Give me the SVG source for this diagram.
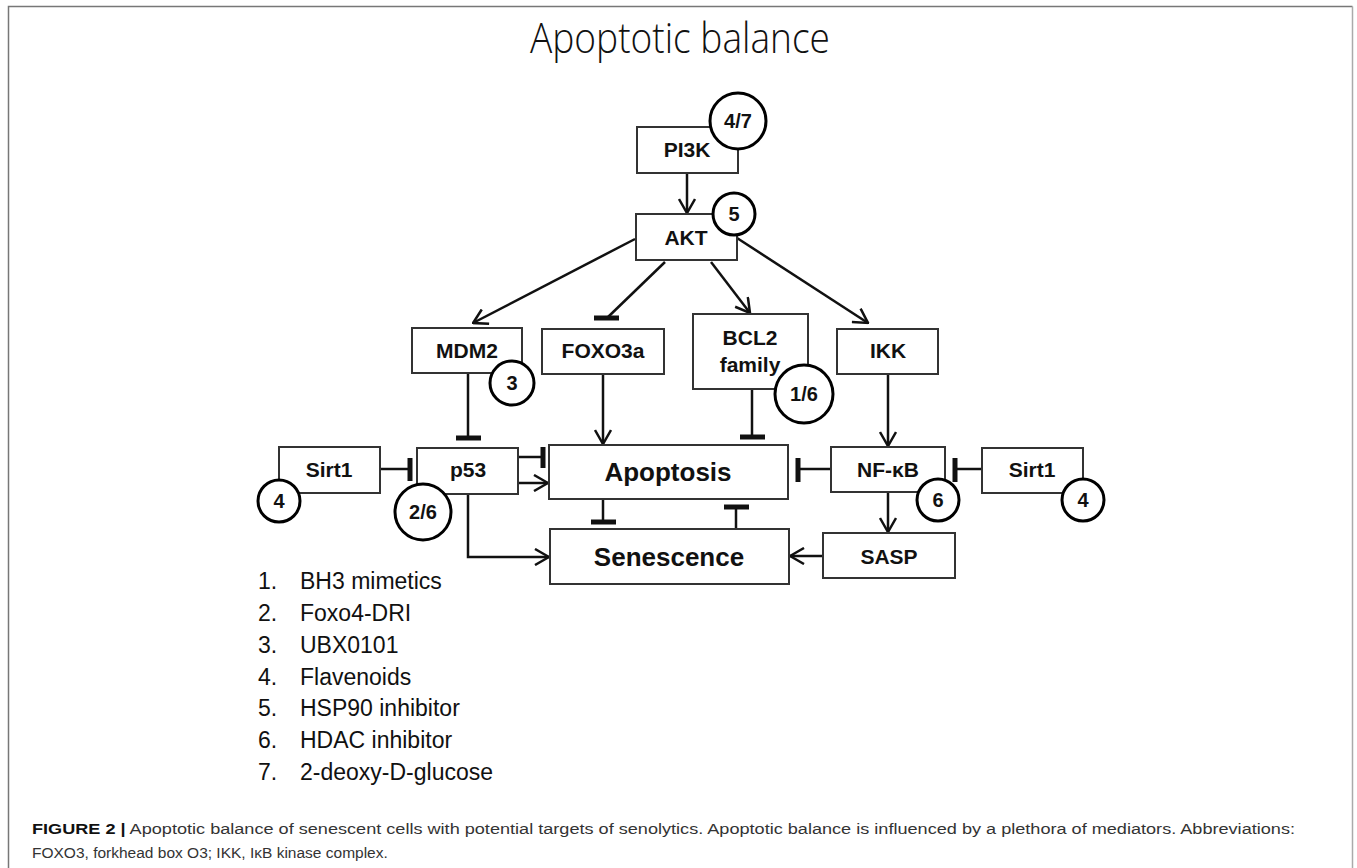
<svg xmlns="http://www.w3.org/2000/svg" width="1357" height="868" viewBox="0 0 1357 868">
<style>
.box{fill:#fff;stroke:#333;stroke-width:2}
.circ{fill:#fff;stroke:#000;stroke-width:3}
.lbl{font-family:"Liberation Sans",Arial,sans-serif;font-weight:bold;font-size:21px;fill:#111;text-anchor:middle}
.big{font-size:26px}
.num{font-family:"Liberation Sans",Arial,sans-serif;font-weight:bold;font-size:20px;fill:#111;text-anchor:middle}
.edge{fill:none;stroke:#111;stroke-width:2.5}
.bar{fill:none;stroke:#111;stroke-width:5}
.leg{font-family:"Liberation Sans",Arial,sans-serif;font-size:23px;fill:#111}
.cap{font-family:"Liberation Sans",Arial,sans-serif;font-size:15.5px;fill:#333}
</style>
<defs>
<marker id="arr" viewBox="0 0 16 18" refX="15" refY="9" markerWidth="16" markerHeight="18" markerUnits="userSpaceOnUse" orient="auto">
<path d="M1,1 L15,9 L1,17" fill="none" stroke="#111" stroke-width="2.5"/>
</marker>
</defs>
<rect width="1357" height="868" fill="#fff"/>
<path d="M8.5,870 L8.5,6.5 L1352.5,6.5" fill="none" stroke="#777" stroke-width="1.5"/>
<path d="M1352.5,6.5 L1352.5,870" fill="none" stroke="#aaa" stroke-width="1.5"/>
<text x="680" y="53" font-family="'Open Sans',sans-serif" font-weight="300" font-size="42" fill="#111" text-anchor="middle" textLength="300" lengthAdjust="spacingAndGlyphs">Apoptotic balance</text>

<g id="connectors">
<path class="edge" d="M687,173 L687,213" marker-end="url(#arr)"/>
<path class="edge" d="M635,239 L473,323" marker-end="url(#arr)"/>
<path class="edge" d="M665,262 L607,318"/>
<path class="bar" d="M594,318 L619,318"/>
<path class="edge" d="M711,262 L750,313" marker-end="url(#arr)"/>
<path class="edge" d="M737,238 L868,323" marker-end="url(#arr)"/>
<path class="edge" d="M468,373 L468,438"/>
<path class="bar" d="M456,438 L481,438"/>
<path class="edge" d="M603,374 L603,444" marker-end="url(#arr)"/>
<path class="edge" d="M752,389 L752,437"/>
<path class="bar" d="M740,437 L765,437"/>
<path class="edge" d="M888,374 L888,446" marker-end="url(#arr)"/>
<path class="edge" d="M380,469 L410,469"/>
<path class="bar" d="M410,458 L410,481"/>
<path class="edge" d="M518,457 L543,457"/>
<path class="bar" d="M543,447 L543,468"/>
<path class="edge" d="M518,483 L548,483" marker-end="url(#arr)"/>
<path class="edge" d="M831,469 L798,469"/>
<path class="bar" d="M798,458 L798,482"/>
<path class="edge" d="M982,469 L955,469"/>
<path class="bar" d="M955,458 L955,482"/>
<path class="edge" d="M603,499 L603,522"/>
<path class="bar" d="M591,522 L616,522"/>
<path class="edge" d="M736,529 L736,507"/>
<path class="bar" d="M724,507 L749,507"/>
<path class="edge" d="M468,494 L468,557 L549,557" marker-end="url(#arr)"/>
<path class="edge" d="M888,492 L888,532" marker-end="url(#arr)"/>
<path class="edge" d="M823,556 L790,556" marker-end="url(#arr)"/>
</g>

<g id="PI3K"><rect class="box" x="637" y="127" width="101" height="46"/><text class="lbl" x="687" y="157">PI3K</text><circle class="circ" cx="738" cy="121" r="28"/><text class="num" x="738" y="128">4/7</text></g>
<g id="AKT"><rect class="box" x="636" y="214" width="101" height="46"/><text class="lbl" x="686" y="245">AKT</text><circle class="circ" cx="734" cy="214" r="21"/><text class="num" x="734" y="221">5</text></g>
<g id="MDM2"><rect class="box" x="412" y="328" width="110" height="45"/><text class="lbl" x="467" y="358">MDM2</text><circle class="circ" cx="512" cy="383" r="22"/><text class="num" x="512" y="390">3</text></g>
<g id="FOXO3a"><rect class="box" x="542" y="329" width="122" height="45"/><text class="lbl" x="603" y="358">FOXO3a</text></g>
<g id="BCL2"><rect class="box" x="693" y="314" width="115" height="75"/><text class="lbl" x="750" y="345">BCL2</text><text class="lbl" x="750" y="372">family</text><circle class="circ" cx="804" cy="394" r="29"/><text class="num" x="804" y="401">1/6</text></g>
<g id="IKK"><rect class="box" x="837" y="329" width="101" height="45"/><text class="lbl" x="888" y="358">IKK</text></g>
<g id="Sirt1L"><rect class="box" x="279" y="447" width="101" height="46"/><text class="lbl" x="329" y="477">Sirt1</text><circle class="circ" cx="279" cy="501" r="21"/><text class="num" x="279" y="508">4</text></g>
<g id="p53"><rect class="box" x="417" y="448" width="101" height="46"/><text class="lbl" x="468" y="477">p53</text><circle class="circ" cx="423" cy="512" r="28"/><text class="num" x="423" y="519">2/6</text></g>
<g id="Apoptosis"><rect class="box" x="549" y="445" width="239" height="54"/><text class="lbl big" x="668" y="481">Apoptosis</text></g>
<g id="Senescence"><rect class="box" x="550" y="529" width="239" height="55"/><text class="lbl big" x="669" y="566">Senescence</text></g>
<g id="NFkB"><rect class="box" x="831" y="447" width="114" height="45"/><text class="lbl" x="888" y="477">NF-κB</text><circle class="circ" cx="938" cy="500" r="21"/><text class="num" x="938" y="507">6</text></g>
<g id="Sirt1R"><rect class="box" x="982" y="448" width="101" height="45"/><text class="lbl" x="1032" y="477">Sirt1</text><circle class="circ" cx="1083" cy="500" r="21"/><text class="num" x="1083" y="507">4</text></g>
<g id="SASP"><rect class="box" x="823" y="533" width="132" height="45"/><text class="lbl" x="889" y="564">SASP</text></g>

<g id="legend" class="leg">
<text x="258" y="589">1.</text><text x="300" y="589">BH3 mimetics</text>
<text x="258" y="621">2.</text><text x="300" y="621">Foxo4-DRI</text>
<text x="258" y="653">3.</text><text x="300" y="653">UBX0101</text>
<text x="258" y="685">4.</text><text x="300" y="685">Flavenoids</text>
<text x="258" y="716">5.</text><text x="300" y="716">HSP90 inhibitor</text>
<text x="258" y="748">6.</text><text x="300" y="748">HDAC inhibitor</text>
<text x="258" y="780">7.</text><text x="300" y="780">2-deoxy-D-glucose</text>
</g>

<g id="caption" class="cap">
<text x="32" y="834" textLength="1263" lengthAdjust="spacingAndGlyphs"><tspan font-weight="bold" fill="#111">FIGURE 2 |</tspan> Apoptotic balance of senescent cells with potential targets of senolytics. Apoptotic balance is influenced by a plethora of mediators. Abbreviations:</text>
<text x="32" y="858">FOXO3, forkhead box O3; IKK, IκB kinase complex.</text>
</g>
</svg>
